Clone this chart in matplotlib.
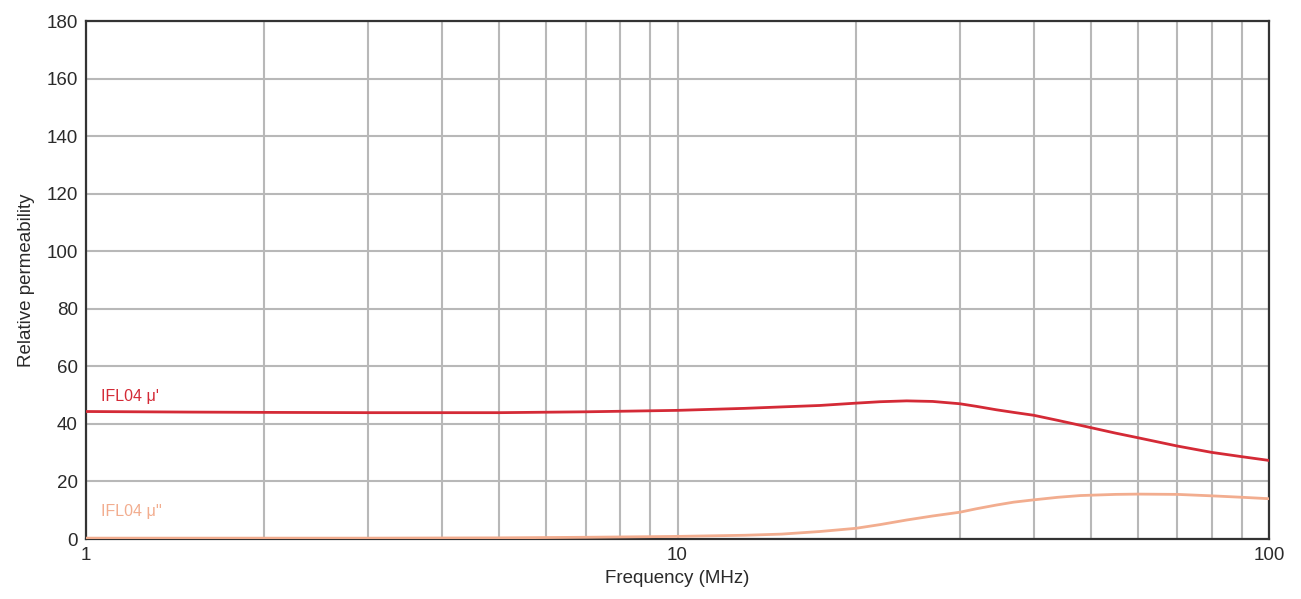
import matplotlib
matplotlib.use("Agg")
import matplotlib.pyplot as plt
from matplotlib.ticker import FixedLocator, NullFormatter, FixedFormatter

plt.rcParams['font.family'] = ['Liberation Sans', 'DejaVu Sans']

freq = [1, 1.5, 2, 3, 5, 7, 10, 13, 15, 17.4, 20, 22, 24.4, 27, 30, 32, 34.6, 37, 40, 44, 48, 55, 60, 70, 80, 90, 100]
mu_real = [44.3, 44.1, 44.0, 43.9, 43.9, 44.2, 44.7, 45.4, 45.9, 46.4, 47.2, 47.7, 48.0, 47.8, 47.0, 46.1, 44.9, 44.0, 43.0, 41.2, 39.5, 36.8, 35.2, 32.3, 30.1, 28.6, 27.3]
mu_imag = [0.3, 0.3, 0.3, 0.3, 0.4, 0.6, 0.9, 1.3, 1.7, 2.6, 3.7, 5.0, 6.6, 8.0, 9.3, 10.5, 11.8, 12.8, 13.6, 14.5, 15.1, 15.5, 15.6, 15.5, 15.0, 14.5, 14.0]

yticks = [0, 20, 40, 60, 80, 100, 120, 140, 160, 180]
xticks = [1, 10, 100]
xtick_labels = ['1', '10', '100']

red = '#d42a36'
orange = '#f2ad8f'

fig = plt.figure(figsize=(13.01, 5.99), dpi=100)
ax = fig.add_axes([86/1301, 1 - 539/599, (1269-86)/1301, (539-21)/599])

ax.plot(freq, mu_real, color=red, lw=2, zorder=3)
ax.plot(freq, mu_imag, color=orange, lw=2, zorder=3)

ax.set_xscale('log')
ax.set_xlim(1, 100)
ax.set_ylim(0, 180)
ax.xaxis.set_major_locator(FixedLocator(xticks))
ax.xaxis.set_major_formatter(FixedFormatter(xtick_labels))
minors = [m * d for d in (1, 10) for m in range(2, 10)]
ax.xaxis.set_minor_locator(FixedLocator(minors))
ax.xaxis.set_minor_formatter(NullFormatter())
ax.set_yticks(yticks)

ax.grid(True, which='both', color='#b8b8b8', lw=1.5, zorder=1)
ax.set_axisbelow(True)
ax.tick_params(which='both', length=0, labelsize=13.5, colors='#2a2a2a', pad=6)
for s in ax.spines.values():
    s.set_color('#333333')
    s.set_linewidth(1.6)

ax.set_xlabel('Frequency (MHz)', fontsize=13.5, color='#2a2a2a', labelpad=4)
ax.set_ylabel('Relative permeability', fontsize=13.5, color='#2a2a2a', labelpad=8)

ax.text(1.06, 49.5, "IFL04 μ'", color=red, fontsize=11.5, va='center')
ax.text(1.06, 9.5, "IFL04 μ''", color=orange, fontsize=11.5, va='center')

fig.savefig('out.png', dpi=100)
